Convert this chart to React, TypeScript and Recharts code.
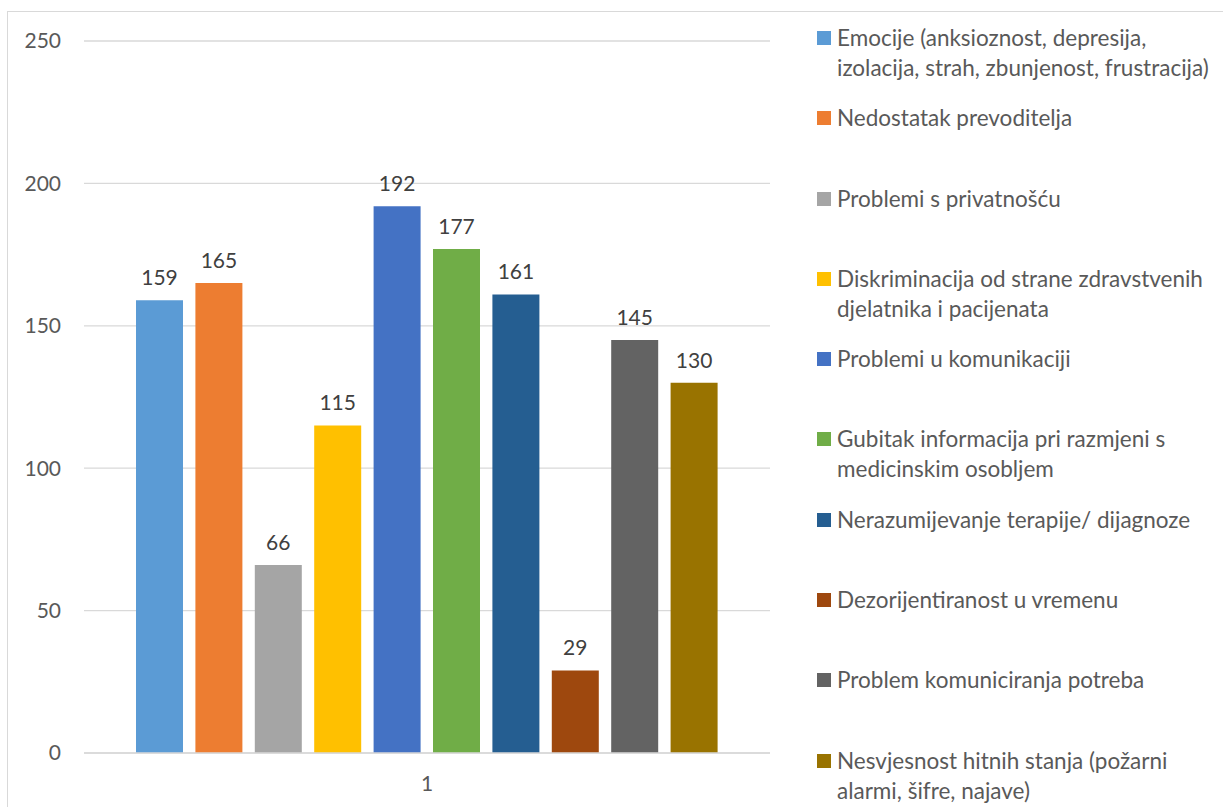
import React from "react";
import { Bar, BarChart, CartesianGrid, LabelList, XAxis, YAxis } from "recharts";

const categories = ["1"];

const seriesNames = [
  "Emocije (anksioznost, depresija, izolacija, strah, zbunjenost, frustracija)",
  "Nedostatak prevoditelja",
  "Problemi s privatnošću",
  "Diskriminacija od strane zdravstvenih djelatnika i pacijenata",
  "Problemi u komunikaciji",
  "Gubitak informacija pri razmjeni s medicinskim osobljem",
  "Nerazumijevanje terapije/ dijagnoze",
  "Dezorijentiranost u vremenu",
  "Problem komuniciranja potreba",
  "Nesvjesnost hitnih stanja (požarni alarmi, šifre, najave)",
];

const seriesValues = [159, 165, 66, 115, 192, 177, 161, 29, 145, 130];

const seriesColors = [
  "#5B9BD5",
  "#ED7D31",
  "#A5A5A5",
  "#FFC000",
  "#4472C4",
  "#70AD47",
  "#255E91",
  "#9E480E",
  "#636363",
  "#997300",
];

const yTicks = [0, 50, 100, 150, 200, 250];

const FONT = "Lato, 'Open Sans', sans-serif";

// one row per category, one key per series
const chartData = categories.map((cat) => {
  const row: Record<string, string | number> = { category: cat };
  seriesNames.forEach((name, i) => {
    row[`s${i}`] = seriesValues[i];
  });
  return row;
});

function SideLegend() {
  return (
    <div
      style={{
        position: "absolute",
        left: 817,
        top: 23,
        width: 406,
        fontFamily: FONT,
        fontSize: 22.5,
        lineHeight: "30px",
        color: "#595959",
      }}
    >
      {seriesNames.map((name, i) => (
        <div key={name} style={{ display: "flex", alignItems: "flex-start", height: 80.3 }}>
          <span
            style={{
              width: 14,
              height: 14,
              marginTop: 8,
              marginRight: 6,
              flex: "0 0 auto",
              background: seriesColors[i],
            }}
          />
          <span style={{ width: 382 }}>{name}</span>
        </div>
      ))}
    </div>
  );
}

export default function App() {
  return (
    <div
      style={{
        position: "absolute",
        left: 0,
        top: 0,
        width: 1223,
        height: 807,
        overflow: "hidden",
        background: "#fff",
        fontFamily: FONT,
      }}
    >
      <div
        style={{
          position: "absolute",
          left: 7,
          top: 11,
          width: 1240,
          height: 820,
          border: "1px solid #d9d9d9",
        }}
      />
      <BarChart
        width={1223}
        height={807}
        data={chartData}
        margin={{ top: 41, right: 453, bottom: 14, left: 24 }}
        barSize={47}
        barGap={12.4}
      >
        <CartesianGrid vertical={false} stroke="#d9d9d9" strokeWidth={1.3} />
        <XAxis
          dataKey="category"
          height={40}
          tickSize={0}
          tickMargin={23}
          axisLine={{ stroke: "#d9d9d9", strokeWidth: 1.5 }}
          tickLine={false}
          tick={{ fill: "#595959", fontSize: 21, fontFamily: FONT }}
        />
        <YAxis
          width={60}
          domain={[0, 250]}
          ticks={yTicks}
          tickSize={0}
          tickMargin={23}
          axisLine={false}
          tickLine={false}
          tick={{ fill: "#595959", fontSize: 21, fontFamily: FONT }}
        />
        {seriesNames.map((name, i) => (
          <Bar
            key={name}
            dataKey={`s${i}`}
            name={name}
            fill={seriesColors[i]}
            isAnimationActive={false}
          >
            <LabelList
              dataKey={`s${i}`}
              position="top"
              offset={15}
              fill="#404040"
              fontSize={21}
              fontFamily={FONT}
            />
          </Bar>
        ))}
      </BarChart>
      <SideLegend />
    </div>
  );
}
